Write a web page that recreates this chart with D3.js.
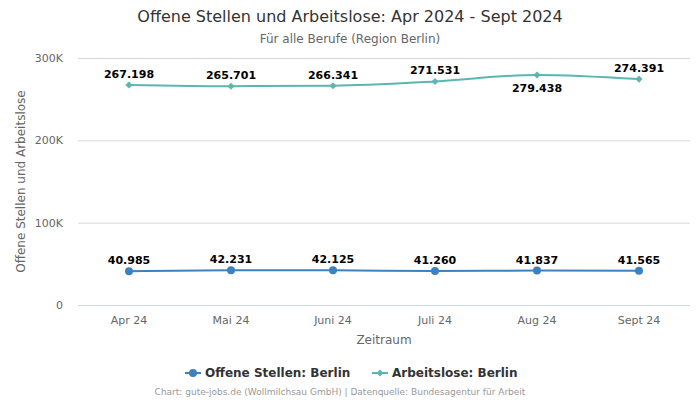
<!DOCTYPE html>
<html><head><meta charset="utf-8">
<script src="https://cdn.jsdelivr.net/npm/d3@7"></script>
<style>body{margin:0;background:#fff;font-family:"DejaVu Sans",sans-serif;}</style>
</head><body><svg id="c" width="700" height="400"></svg>
<script>
const categories = ["Apr 24","Mai 24","Juni 24","Juli 24","Aug 24","Sept 24"];
const offeneStellen = [40985,42231,42125,41260,41837,41565];
const arbeitslose = [267198,265701,266341,271531,279438,274391];
const yTicks = [0,100000,200000,300000];
const yTickLabels = ["0","100K","200K","300K"];
const seriesNames = ["Offene Stellen: Berlin","Arbeitslose: Berlin"];
const labelBelow = [[false,false,false,false,false,false],[false,false,false,false,true,false]];

const svg = d3.select("#c");
const m = {l:78, r:690, t:58, b:305};
const x = d3.scaleBand().domain(categories).range([m.l,m.r]);
const y = d3.scaleLinear().domain([0,300000]).range([m.b,m.t]);
const fmt = v => d3.format(",")(v).replace(/,/g,".");

svg.append("text").attr("x",350).attr("y",22).attr("text-anchor","middle").attr("fill","#333").style("font-size","16px").text("Offene Stellen und Arbeitslose: Apr 2024 - Sept 2024");
svg.append("text").attr("x",350).attr("y",43).attr("text-anchor","middle").attr("fill","#666").style("font-size","12px").text("Für alle Berufe (Region Berlin)");

const yAxis = svg.append("g").attr("transform",`translate(${m.l},0)`)
  .call(d3.axisLeft(y).tickValues(yTicks).tickSize(-(m.r-m.l)).tickFormat((d,i)=>yTickLabels[i]));
yAxis.select(".domain").remove();
yAxis.selectAll(".tick line").attr("stroke","#d8d8d8");
yAxis.selectAll(".tick").filter(d=>d===0).select("line").attr("stroke","#ccd6eb");
yAxis.selectAll(".tick text").attr("x",-15).attr("fill","#666").style("font-size","11px").style("font-family","DejaVu Sans");

const xAxis = svg.append("g").attr("transform",`translate(0,${m.b})`)
  .call(d3.axisBottom(x).tickSize(0).tickPadding(11));
xAxis.select(".domain").remove();
xAxis.selectAll(".tick text").attr("fill","#666").style("font-size","11px").style("font-family","DejaVu Sans");

svg.append("text").attr("transform",`translate(25,${(m.t+m.b)/2}) rotate(-90)`).attr("text-anchor","middle").attr("fill","#666").style("font-size","12px").text("Offene Stellen und Arbeitslose");
svg.append("text").attr("x",384).attr("y",344).attr("text-anchor","middle").attr("fill","#666").style("font-size","12px").text("Zeitraum");

const colors = ["#3d81bf","#5bb6b0"];
const data = [offeneStellen, arbeitslose];
const line = d3.line().x((d,i)=>x(categories[i])+x.bandwidth()/2).y(d=>y(d)).curve(d3.curveMonotoneX);

data.forEach((vals,s)=>{
  const g = svg.append("g");
  g.append("path").attr("d",line(vals)).attr("fill","none").attr("stroke",colors[s]).attr("stroke-width",2);
  vals.forEach((v,i)=>{
    const cx = x(categories[i])+x.bandwidth()/2, cy = y(v);
    if(s===0) g.append("circle").attr("cx",cx).attr("cy",cy).attr("r",4).attr("fill",colors[s]);
    else g.append("path").attr("d",d3.symbol(d3.symbolDiamond2,32)()).attr("transform",`translate(${cx},${cy})`).attr("fill",colors[s]);
    const below = labelBelow[s][i];
    g.append("text").attr("x",cx).attr("y",below?cy+17:cy-7).attr("text-anchor","middle")
      .attr("fill","#000").attr("stroke","#fff").attr("stroke-width",3).attr("paint-order","stroke")
      .style("font-size","11px").style("font-weight","bold").text(fmt(v));
  });
});

const leg = [{x:185,tx:205},{x:372,tx:392}];
seriesNames.forEach((n,s)=>{
  const g = svg.append("g");
  g.append("line").attr("x1",leg[s].x).attr("x2",leg[s].x+16).attr("y1",373).attr("y2",373).attr("stroke",colors[s]).attr("stroke-width",2);
  if(s===0) g.append("circle").attr("cx",leg[s].x+8).attr("cy",373).attr("r",4).attr("fill",colors[s]);
  else g.append("path").attr("d",d3.symbol(d3.symbolDiamond2,32)()).attr("transform",`translate(${leg[s].x+8},373)`).attr("fill",colors[s]);
  g.append("text").attr("x",leg[s].tx).attr("y",377).attr("fill","#333").style("font-size","12px").style("font-weight","bold").text(n);
});

svg.append("text").attr("x",340).attr("y",395).attr("text-anchor","middle").attr("fill","#999").style("font-size","9px").text("Chart: gute-jobs.de (Wollmilchsau GmbH) | Datenquelle: Bundesagentur für Arbeit");
</script></body></html>
